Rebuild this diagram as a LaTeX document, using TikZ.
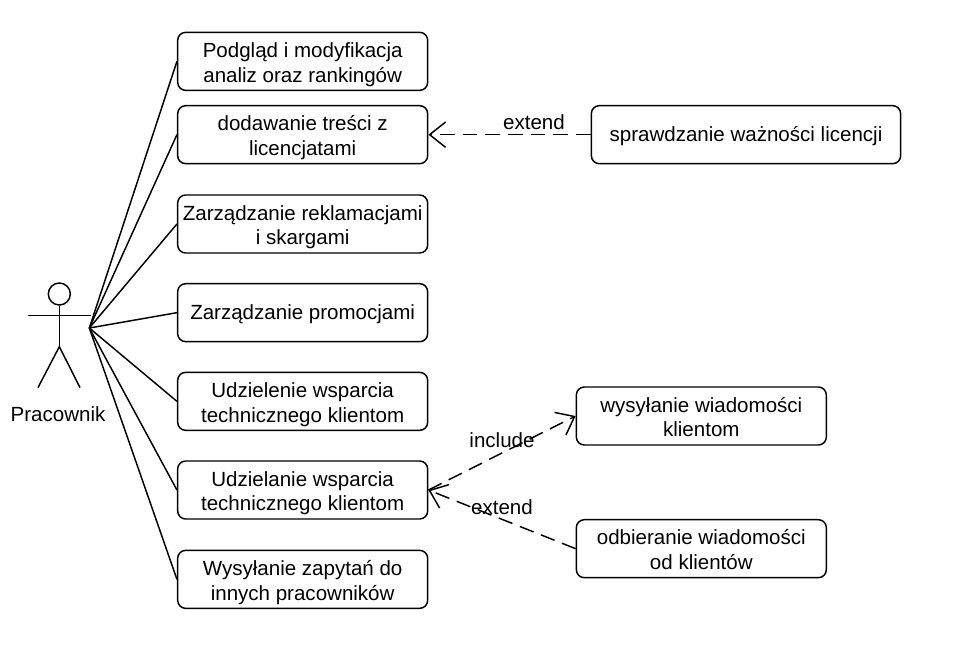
\documentclass[tikz,border=0pt]{standalone}
\usepackage{fontspec}
\setmainfont{Liberation Sans}
\usetikzlibrary{arrows.meta}
\begin{document}
\begin{tikzpicture}[x=1pt,y=-1pt,
  uc/.style={draw, rounded corners=6pt, align=center, minimum width=187.5pt, minimum height=43.5pt, inner sep=0pt, font=\fontsize{15.4}{18.6}\selectfont, line width=1.1pt, text height=13.5pt, text depth=3.6pt},
  uctwo/.style={uc, text height=32.5pt, text depth=1.2pt},
  ln/.style={line width=1.1pt},
  dep/.style={line width=1.1pt, dash pattern=on 11pt off 6pt, -{Straight Barb[length=12pt,width=19pt,line width=1.1pt]}},
  lbl/.style={font=\fontsize{15.4}{18}\selectfont, inner sep=0pt}
]
\useasboundingbox (0,0) rectangle (716.25,483);
% actor
\node[circle, draw, line width=1.1pt, minimum size=16.5pt, inner sep=0pt] (head) at (44.5,220.5) {};
\coordinate (hip) at (44.5,260);
\coordinate (armL) at (21,236.5);
\coordinate (armE) at (68,236.5);
\coordinate (armR) at (67,246);
\coordinate (legL) at (28.5,290.7);
\coordinate (legR) at (60,290.7);
\draw[ln] (head) -- (hip);
\draw[ln] (armL) -- (armE);
\draw[ln] (legL) -- (hip) -- (legR);
\node[lbl] (actor) at (43.5,310.5) {Pracownik};
% use cases, left column
\node[uctwo] (u1) at (227,46) {Podgląd i modyfikacja\\analiz oraz rankingów};
\node[uctwo] (u2) at (227,101) {dodawanie treści z\\licencjatami};
\node[uctwo] (u3) at (227,168) {Zarządzanie reklamacjami\\i skargami};
\node[uc] (u4) at (227,234.5) {Zarządzanie promocjami};
\node[uctwo] (u5) at (227,301) {Udzielenie wsparcia\\technicznego klientom};
\node[uctwo] (u6) at (227,367.5) {Udzielanie wsparcia\\technicznego klientom};
\node[uctwo] (u7) at (227,434.5) {Wysyłanie zapytań do\\innych pracowników};
% use cases, right column
\node[uc, minimum width=232pt] (v1) at (559.5,101) {sprawdzanie ważności licencji};
\node[uctwo] (v2) at (526,312) {wysyłanie wiadomości\\klientom};
\node[uctwo] (v3) at (526,411.5) {odbieranie wiadomości\\od klientów};
\foreach \u in {u1,u2,u3,u4,u5,u6,u7} {\draw[ln] (armR) -- (\u.west);}
\draw[dep] (v1) -- (u2);
\draw[dep] (u6.east) -- (v2.west);
\draw[dep] (v3.west) -- (u6.east);
% labels
\node[lbl] (e1) at (400.5,91.5) {extend};
\node[lbl] (e2) at (376.5,330) {include};
\node[lbl] (e3) at (376.5,380) {extend};
\end{tikzpicture}
\end{document}
